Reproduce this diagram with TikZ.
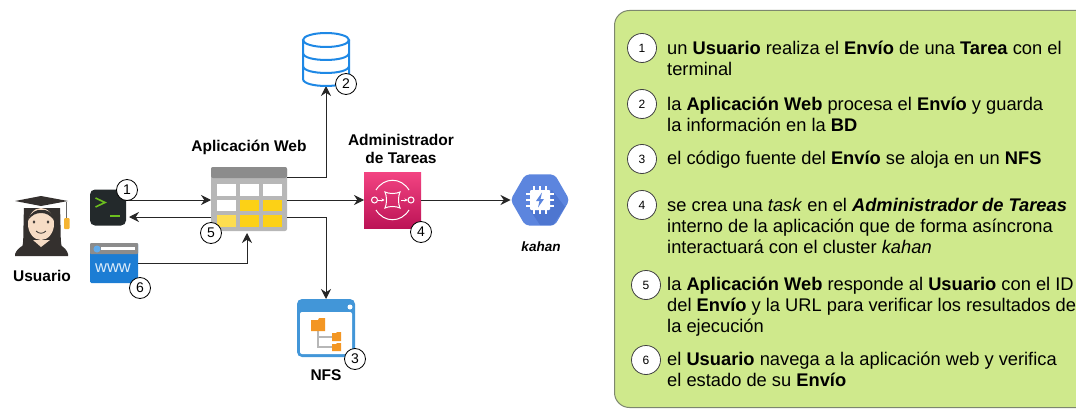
\documentclass[tikz,border=0pt]{standalone}
\usepackage{fontspec}
\setmainfont{Liberation Sans}
\usetikzlibrary{arrows.meta,shapes.geometric}
\definecolor{panelgreen}{RGB}{207,233,140}
\definecolor{panelline}{RGB}{125,135,110}
\definecolor{appgray}{RGB}{183,183,183}
\definecolor{appdark}{RGB}{140,140,140}
\definecolor{appyellow}{RGB}{252,209,22}
\definecolor{dbblue}{RGB}{30,136,229}
\definecolor{wwwblue}{RGB}{28,125,212}
\definecolor{nfsblue}{RGB}{66,150,216}
\definecolor{folderorange}{RGB}{243,150,35}
\definecolor{pinktop}{RGB}{243,68,130}
\definecolor{pinkbottom}{RGB}{188,19,86}
\definecolor{kahanblue}{RGB}{92,133,222}
\definecolor{kahandark}{RGB}{78,118,208}
\definecolor{termdark}{RGB}{35,41,43}
\definecolor{termgreen}{RGB}{108,191,30}
\definecolor{skin}{RGB}{246,220,197}
\definecolor{hairdark}{RGB}{52,48,46}
\definecolor{tasselgold}{RGB}{245,180,50}
\tikzset{
  iconbox/.style={inner sep=0pt, outer sep=0pt, minimum width=#1},
  numcirc/.style={circle, draw=black, thick, fill=white, minimum size=21pt, inner sep=0pt, font=\fontsize{14}{14}\selectfont},
  panelnum/.style={circle, draw=black!75, thick, fill=white, minimum size=29pt, inner sep=0pt, font=\fontsize{12}{12}\selectfont},
  paneltext/.style={anchor=west, align=left, inner sep=0pt, font=\fontsize{18.3}{21}\selectfont},
  title/.style={align=center, inner sep=0pt, font=\fontsize{15.5}{18}\selectfont\bfseries},
  flow/.style={-{Stealth[length=10pt,width=10pt]}, line width=1pt, black!85}
}
\begin{document}
\begin{tikzpicture}[x=1pt,y=-1pt]
\useasboundingbox (0,0) rectangle (1076,409);
\clip (0,0) rectangle (1076,409);

% panel
\node (panel) [anchor=north west, fill=panelgreen, draw=panelline, line width=1pt, rounded corners=15pt, minimum width=480pt, minimum height=397pt] at (614,10) {};

\node (n1) [panelnum] at (642,48) {1};
\node (n2) [panelnum] at (642,104) {2};
\node (n3) [panelnum] at (642,159) {3};
\node (n4) [panelnum] at (642,205) {4};
\node (n5) [panelnum] at (646,285) {5};
\node (n6) [panelnum] at (646,360) {6};

\node (t1) [paneltext] at (667,58) {un \textbf{Usuario} realiza el \textbf{Envío} de una \textbf{Tarea} con el\\terminal};
\node (t2) [paneltext] at (667,114) {la \textbf{Aplicación Web} procesa el \textbf{Envío} y guarda\\la información en la \textbf{BD}};
\node (t3) [paneltext] at (667,160) {el código fuente del \textbf{Envío} se aloja en un \textbf{NFS}};
\node (t4) [paneltext] at (667,226) {se crea una \textit{task} en el \textbf{\textit{Administrador de Tareas}}\\interno de la aplicación que de forma asíncrona\\interactuará con el cluster \textit{kahan}};
\node (t5) [paneltext] at (667,307) {la \textbf{Aplicación Web} responde al \textbf{Usuario} con el ID\\del \textbf{Envío} y la URL para verificar los resultados de\\la ejecución};
\node (t6) [paneltext] at (667,369) {el \textbf{Usuario} navega a la aplicación web y verifica\\el estado de su \textbf{Envío}};

% icon boxes
\node (terminal) [iconbox=36pt, minimum height=36pt, fill=termdark, rounded corners=5pt] at (108,207.5) {};
\node (www) [iconbox=48pt, minimum height=40pt, fill=wwwblue, rounded corners=1.5pt] at (114,263) {};
\node (app) [iconbox=76pt, minimum height=64pt, fill=appgray, rounded corners=2pt] at (249,199) {};
\node (db) [iconbox=48pt, minimum height=53pt] at (326,59.5) {};
\node (admin) [iconbox=57pt, minimum height=56pt, top color=pinktop, bottom color=pinkbottom] at (392.5,200) {};
\node (kahan) [regular polygon, regular polygon sides=6, minimum size=59pt, inner sep=0pt, outer sep=0pt, fill=kahanblue, rounded corners=4pt] at (540,200) {};
\node (nfs) [iconbox=58pt, minimum height=58pt, fill=nfsblue, rounded corners=5pt] at (326,328) {};

% connectors
\draw[flow] ([yshift=7.5pt]terminal.east) -- ([yshift=-1pt]app.west);
\draw[flow] ([yshift=-18pt]app.west) -- ([xshift=3pt,yshift=-9.5pt]terminal.east);
\draw[flow] (www.east) -| ([xshift=-2pt,yshift=-2pt]app.south);
\draw[flow] ([yshift=22pt]app.east) -| (db.south);
\draw[flow] ([yshift=-1pt]app.east) -- (admin.west);
\draw[flow] ([yshift=-18pt]app.east) -| (nfs.north);
\draw[flow] (admin.east) -- (kahan.west);

% terminal
\draw[termgreen, line width=1.6pt] (95.5,198) -- (105,202.5) -- (95.5,207);
\draw[termgreen, line width=1.6pt] (110,216) -- (120,216);

% www
\fill[appdark, rounded corners=1pt] (90,243) rectangle (138,254);
\fill[white] (101,247) rectangle (135,250);
\fill[dbblue!70] (97,249) circle (3.5);
\node (wwwtext) [inner sep=0pt, text=white!85!wwwblue, font=\fontsize{16.5}{16.5}\selectfont] at (113,268) {www};

% app table
\fill[appdark, rounded corners=2pt] (211,167) rectangle (287,178);
\foreach \cx/\cy/\cc in {217/184/white,240/184/white,263/184/white,217/199.5/white,240/199.5/appyellow,263/199.5/appyellow,217/215/appyellow!75,240/215/appyellow,263/215/appyellow}
  \fill[\cc] (\cx,\cy) rectangle +(19,11.5);

% database
\draw[dbblue, line width=2pt] (326,40) ellipse (23 and 7);
\draw[dbblue, line width=2pt] (303,40) -- (303,79) .. controls (303,88.3) and (349,88.3) .. (349,79) -- (349,40);
\draw[dbblue, line width=2pt] (303,53) .. controls (303,62.3) and (349,62.3) .. (349,53);
\draw[dbblue, line width=2pt] (303,66) .. controls (303,75.3) and (349,75.3) .. (349,66);

% admin
\draw[white, line width=1pt] (376,190) .. controls (384,177) and (401,177) .. (409,190);
\draw[white, line width=1pt] (376,210) .. controls (384,223) and (401,223) .. (409,210);
\draw[white, line width=1pt] (374.5,200) circle (3);
\draw[white, line width=1pt] (411,200) circle (3);
\draw[white, line width=1pt] (385,192) .. controls (389,194) and (396,194) .. (400,192) .. controls (398,196) and (398,204) .. (400,208) .. controls (396,206) and (389,206) .. (385,208) .. controls (387,204) and (387,196) .. (385,192) -- cycle;
\draw[white, line width=1pt, -{Stealth[length=3pt,width=3pt]}] (378,200) -- (384.5,200);
\draw[white, line width=1pt, -{Stealth[length=3pt,width=3pt]}] (401,200) -- (407.5,200);

% kahan chip
\fill[kahandark] (552,190) -- (565,207) -- (553,225) -- (540,225) -- (530,210) -- cycle;
\foreach \p in {-6,0,6} {
  \draw[white, line width=1.3pt] (540+\p,186) -- (540+\p,214);
  \draw[white, line width=1.3pt] (526,200+\p) -- (554,200+\p);
}
\fill[white, rounded corners=1pt] (530,190) rectangle (550,210);
\fill[kahanblue] (542,192.5) -- (536,201) -- (539.5,201) -- (538,207.5) -- (544,199) -- (540.5,199) -- cycle;

% nfs
\fill[white, rounded corners=2pt] (300,312) rectangle (352,354);
\fill[white] (350,307) circle (2.5);
\draw[appgray, line width=1.2pt] (318,330) -- (318,347) -- (332,347);
\draw[appgray, line width=1.2pt] (318,337) -- (332,337);
\fill[folderorange] (311,320) -- (318,320) -- (319,318) -- (325,318) -- (325,331) -- (311,331) -- cycle;
\fill[folderorange] (332,333) -- (336,333) -- (337,332) -- (341,332) -- (341,341) -- (332,341) -- cycle;
\fill[folderorange] (332,344) -- (336,344) -- (337,343) -- (341,343) -- (341,351) -- (332,351) -- cycle;

% usuario
\fill[hairdark] (24,208) .. controls (23,230) and (24,242) .. (22,248) -- (62,248) .. controls (60,240) and (61,230) .. (60,208) -- cycle;
\fill[hairdark] (15,254) .. controls (18,246) and (28,243) .. (34,241) -- (50,241) .. controls (56,243) and (66,246) .. (68,254) -- (68,256) -- (15,256) -- cycle;
\fill[skin] (41,247) -- (33,240) -- (50,240) -- cycle;
\fill[skin] (41,224) ellipse (13 and 16);
\fill[hairdark] (28,220) .. controls (30,212) and (38,209) .. (41,210) .. controls (46,209) and (53,212) .. (54,220) .. controls (50,215) and (46,213) .. (41,213) .. controls (36,213) and (32,215) .. (28,220) -- cycle;
\fill[hairdark] (15,201) -- (41,196) -- (68,201) -- (41,206) -- cycle;
\draw[black!60, line width=.6pt] (66,202) -- (66,218);
\fill[tasselgold, rounded corners=1pt] (64,218) rectangle (69.5,229);
\fill[hairdark] (34,222) ellipse (1.3 and 1.7);
\fill[hairdark] (48,222) ellipse (1.3 and 1.7);
\draw[hairdark, line width=.8pt] (36,231) .. controls (39,234) and (43,234) .. (46,231);

% labels
\node (usuario) [title] at (42,276) {Usuario};
\node (applabel) [title] at (249,147) {Aplicación Web};
\node (adminlabel) [title] at (401,149) {Administrador\\de Tareas};
\node (nfslabel) [title] at (326,375) {NFS};
\node (kahanlabel) [title, font=\fontsize{13.5}{14}\selectfont\bfseries\itshape] at (541,247) {kahan};

% number marks
\node (c1) [numcirc] at (127,190) {1};
\node (c2) [numcirc] at (346,84) {2};
\node (c3) [numcirc] at (355,359) {3};
\node (c4) [numcirc] at (421,232) {4};
\node (c5) [numcirc] at (211,233) {5};
\node (c6) [numcirc] at (140,288) {6};
\end{tikzpicture}
\end{document}
